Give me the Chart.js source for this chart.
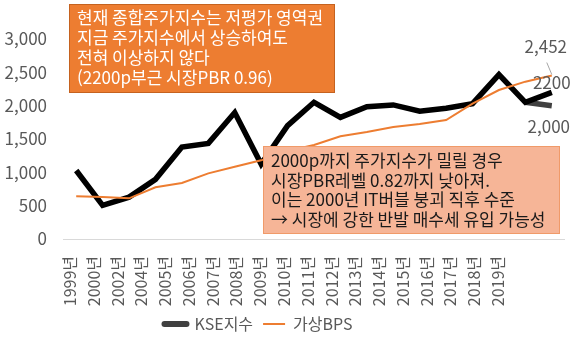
<!DOCTYPE html>
<html lang="ko">
<head>
<meta charset="utf-8">
<script src="https://cdn.jsdelivr.net/npm/chart.js@4"></script>
<style>
  html, body { margin: 0; padding: 0; background: #fff; }
  #wrap { width: 580px; height: 342px; position: relative; }
</style>
</head>
<body>
<div id="wrap"><canvas id="kseChart"></canvas></div>
<script>
const years = ['1999년', '2000년', '2002년', '2004년', '2005년', '2006년', '2007년', '2008년', '2009년', '2010년',
               '2011년', '2012년', '2013년', '2014년', '2015년', '2016년', '2017년', '2018년', '2019년'];
const kseIndex = [1028, 504, 628, 895, 1379, 1434, 1897, 1124, 1700, 2051,
                  1825, 1985, 2011, 1916, 1961, 2030, 2467, 2050, 2200];
const virtualBps = [640, 630, 610, 775, 840, 985, 1085, 1180, 1320, 1410,
                    1540, 1605, 1680, 1725, 1785, 2030, 2235, 2360, 2452];
// 2000p 하락 시나리오
const downsideCase = [null, null, null, null, null, null, null, null, null, null,
                      null, null, null, null, null, null, null, 2050, 2000];
const yTicks = [0, 500, 1000, 1500, 2000, 2500, 3000];

const FONT = "'Noto Sans CJK KR', 'Noto Sans', sans-serif";
Chart.defaults.font.family = FONT;
Chart.defaults.font.size = 16;
Chart.defaults.color = '#595959';

const noteBoxes = [
  { x: 69, y: 4, w: 266, h: 89, fill: '#ED7D31', stroke: '#C5621F', color: '#ffffff', top: 14, step: 20,
    lines: ['현재 종합주가지수는 저평가 영역권', '지금 주가지수에서 상승하여도', '전혀 이상하지 않다', '(2200p부근 시장PBR 0.96)'] },
  { x: 263, y: 146, w: 297, h: 88, fill: '#F6B597', stroke: '#F09A69', color: '#1a1a1a', top: 15, step: 19.5,
    lines: ['2000p까지 주가지수가 밀릴 경우', '시장PBR레벨 0.82까지 낮아져.', '이는 2000년 IT버블 붕괴 직후 수준', '→ 시장에 강한 반발 매수세 유입 가능성'] }
];

// callout boxes over the lines
const notesPlugin = {
  id: 'notes',
  afterDatasetsDraw(chart) {
    const ctx = chart.ctx;
    ctx.save();
    noteBoxes.forEach(b => {
      ctx.fillStyle = b.fill;
      ctx.fillRect(b.x, b.y, b.w, b.h);
      ctx.strokeStyle = b.stroke;
      ctx.lineWidth = 1;
      ctx.strokeRect(b.x + 0.5, b.y + 0.5, b.w - 1, b.h - 1);
      ctx.fillStyle = b.color;
      ctx.font = '17px ' + FONT;
      ctx.textAlign = 'left';
      ctx.textBaseline = 'middle';
      b.lines.forEach((t, i) => ctx.fillText(t, b.x + 8, b.y + b.top + i * b.step));
    });
    ctx.restore();
  }
};

// value labels at the last point of each series
const endLabels = {
  id: 'endLabels',
  afterDatasetsDraw(chart, args, opts) {
    const ctx = chart.ctx;
    ctx.save();
    ctx.font = '17px ' + FONT;
    ctx.fillStyle = '#595959';
    ctx.textAlign = 'center';
    ctx.textBaseline = 'middle';
    opts.items.forEach(item => {
      const meta = chart.getDatasetMeta(item.dataset);
      const values = chart.data.datasets[item.dataset].data;
      const last = values.length - 1;
      const pt = meta.data[last];
      const tx = pt.x + item.dx, ty = pt.y + item.dy;
      if (item.leader) {
        ctx.strokeStyle = '#a6a6a6';
        ctx.lineWidth = 1;
        ctx.beginPath();
        ctx.moveTo(tx + 1, ty + 16);
        ctx.lineTo(pt.x, pt.y - 1);
        ctx.stroke();
      }
      const v = values[last];
      ctx.fillText(item.comma ? v.toLocaleString('en-US') : String(v), tx, ty);
    });
    ctx.restore();
  }
};

// pull the legend a little left of the canvas centre
const legendNudge = {
  id: 'legendNudge',
  afterLayout(chart) {
    if (chart.legend) {
      chart.legend.left -= 24;
      chart.legend.right -= 24;
    }
  }
};

new Chart(document.getElementById('kseChart'), {
  type: 'line',
  data: {
    labels: years,
    datasets: [
      {
        label: 'KSE지수',
        data: kseIndex,
        borderColor: '#000000',
        borderWidth: 5.5,
        pointRadius: 0,
        order: 2
      },
      {
        label: '가상BPS',
        data: virtualBps,
        borderColor: '#ED7D31',
        borderWidth: 2,
        pointRadius: 0,
        order: 1
      },
      {
        label: '하락 시나리오',
        data: downsideCase,
        borderColor: '#404040',
        borderWidth: 5.5,
        pointRadius: 0,
        order: 3
      }
    ]
  },
  plugins: [notesPlugin, endLabels, legendNudge],
  options: {
    responsive: true,
    maintainAspectRatio: false,
    animation: false,
    layout: { padding: { top: 39, right: 15, bottom: 0, left: 0 } },
    plugins: {
      tooltip: { enabled: false },
      legend: {
        position: 'bottom',
        labels: {
          usePointStyle: true,
          pointStyle: 'line',
          pointStyleWidth: 22,
          padding: 10,
          color: '#595959',
          font: { size: 16 },
          filter: item => item.datasetIndex !== 2,
          sort: (a, b) => a.datasetIndex - b.datasetIndex,
          generateLabels: chart => Chart.defaults.plugins.legend.labels.generateLabels(chart).map(item => {
            if (item.datasetIndex === 0) {
              item.strokeStyle = '#404040';
              item.lineWidth = 6;
              item.lineCap = 'round';
            }
            return item;
          })
        }
      },
      endLabels: {
        items: [
          { dataset: 1, dx: -6, dy: -29, comma: true, leader: true },
          { dataset: 0, dx: 0, dy: -10, comma: false },
          { dataset: 2, dx: -3, dy: 21, comma: true }
        ]
      }
    },
    scales: {
      x: {
        display: false,
        offset: true
      },
      // year labels sit in a narrower band than the plotted points
      xl: {
        type: 'linear',
        position: 'bottom',
        min: -0.294,
        max: 20.82,
        afterBuildTicks: s => { s.ticks = years.map((_, i) => ({ value: i })); },
        afterFit: s => { s.height = 67; },
        ticks: {
          autoSkip: false,
          minRotation: 90,
          maxRotation: 90,
          padding: 9,
          color: '#595959',
          font: { size: 16 },
          callback: v => years[v]
        },
        grid: { display: false },
        border: { display: false }
      },
      y: {
        min: yTicks[0],
        max: yTicks[yTicks.length - 1],
        afterBuildTicks: s => { s.ticks = yTicks.map(v => ({ value: v })); },
        afterFit: s => { s.width = 63; },
        ticks: {
          padding: 16,
          color: '#595959',
          font: { size: 17 },
          callback: v => v.toLocaleString('en-US')
        },
        grid: {
          drawTicks: false,
          color: c => c.tick.value === 0 ? '#d9d9d9' : 'rgba(0,0,0,0)'
        },
        border: { display: false }
      }
    }
  }
});
</script>
</body>
</html>
